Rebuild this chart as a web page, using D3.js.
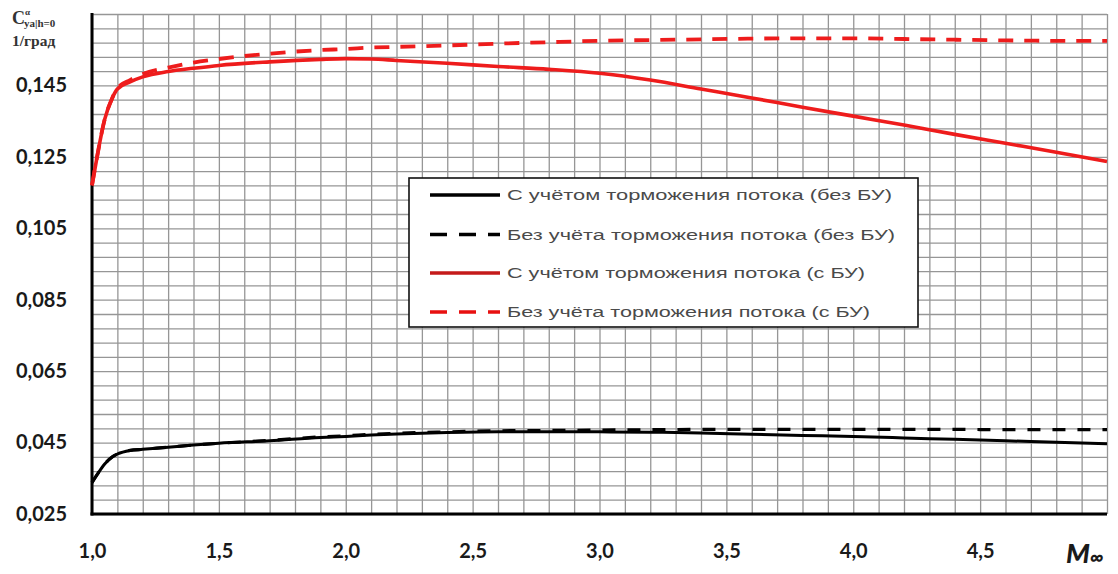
<!DOCTYPE html>
<html>
<head>
<meta charset="utf-8">
<script src="https://cdn.jsdelivr.net/npm/d3@7"></script>
<style>
  html, body { margin: 0; padding: 0; background: #fff; }
  svg { display: block; }
</style>
</head>
<body>
<svg id="chart" width="1118" height="574"></svg>
<script>
// Mach numbers at which the lift-curve slope was evaluated
const mach = [1.0, 1.02, 1.05, 1.08, 1.1, 1.15, 1.2, 1.3, 1.4, 1.5, 1.7, 1.9, 2.0, 2.1, 2.2,
              2.4, 2.6, 2.8, 3.0, 3.2, 3.4, 3.6, 3.8, 4.0, 4.2, 4.4, 4.6, 4.8, 5.0];

// C_ya^alpha, 1/deg — with flow deceleration, without boundary layer
const withDecelNoBL = [0.0338, 0.0360, 0.0390, 0.0410, 0.0418, 0.0428, 0.0431, 0.0437, 0.0443, 0.0448,
                       0.0455, 0.0464, 0.0467, 0.0471, 0.0474, 0.0478, 0.0480, 0.0480, 0.0480, 0.0479,
                       0.0477, 0.0473, 0.0470, 0.0467, 0.0463, 0.0459, 0.0455, 0.0451, 0.0447];
// without flow deceleration, without boundary layer
const noDecelNoBL = [0.0338, 0.0360, 0.0390, 0.0410, 0.0418, 0.0428, 0.0431, 0.0437, 0.0443, 0.0448,
                     0.0456, 0.0466, 0.0469, 0.0473, 0.0476, 0.0480, 0.0483, 0.0484, 0.0485, 0.0486,
                     0.0487, 0.0487, 0.0487, 0.0487, 0.0487, 0.0487, 0.0486, 0.0486, 0.0486];
// with flow deceleration, with boundary layer
const withDecelBL = [0.1170, 0.1250, 0.1355, 0.1415, 0.1440, 0.1460, 0.1474, 0.1489, 0.1498, 0.1506,
                     0.1516, 0.1523, 0.1525, 0.1524, 0.1520, 0.1512, 0.1503, 0.1495, 0.1484, 0.1465,
                     0.1440, 0.1415, 0.1389, 0.1364, 0.1339, 0.1313, 0.1288, 0.1263, 0.1237];
// without flow deceleration, with boundary layer
const noDecelBL = [0.1170, 0.1250, 0.1355, 0.1415, 0.1442, 0.1465, 0.1482, 0.1500, 0.1514, 0.1524,
                   0.1539, 0.1549, 0.1552, 0.1556, 0.1558, 0.1562, 0.1567, 0.1571, 0.1575, 0.1577,
                   0.1579, 0.1581, 0.1582, 0.1582, 0.1580, 0.1578, 0.1576, 0.1575, 0.1575];

const xTicks = [1.0, 1.5, 2.0, 2.5, 3.0, 3.5, 4.0, 4.5];
const xTickLabels = ["1,0", "1,5", "2,0", "2,5", "3,0", "3,5", "4,0", "4,5"];
const yTicks = [0.025, 0.045, 0.065, 0.085, 0.105, 0.125, 0.145];
const yTickLabels = ["0,025", "0,045", "0,065", "0,085", "0,105", "0,125", "0,145"];

const legendLabels = [
  "С учётом торможения потока (без БУ)",
  "Без учёта торможения потока (без БУ)",
  "С учётом торможения потока (с БУ)",
  "Без учёта торможения потока (с БУ)"
];

const svg = d3.select("#chart");
const plotL = 92, plotR = 1107, plotT = 14, plotB = 514;

const x = d3.scaleLinear().domain([1, 5]).range([plotL, plotR]);
const y = d3.scaleLinear().domain([0.025, 0.165]).range([plotB, plotT]);

// fine grid: every 0.1 in M, every 0.004 in C
const gridX = d3.range(0, 41).map(i => 1 + i * 0.1);
const gridY = d3.range(0, 36).map(i => 0.025 + i * 0.004);

const gx = svg.append("g").attr("transform", `translate(0,${plotB})`)
  .call(d3.axisBottom(x).tickValues(gridX).tickSize(-(plotB - plotT)).tickFormat(""));
const gy = svg.append("g").attr("transform", `translate(${plotL},0)`)
  .call(d3.axisLeft(y).tickValues(gridY).tickSize(-(plotR - plotL)).tickFormat(""));
[gx, gy].forEach(g => {
  g.select(".domain").remove();
  g.selectAll(".tick line").attr("stroke", "#969696").attr("stroke-width", 1.3);
});

// tick labels
const font = "Lato, 'Open Sans', sans-serif";
const ax = svg.append("g").attr("transform", `translate(0,${plotB})`)
  .call(d3.axisBottom(x).tickValues(xTicks).tickSize(0).tickPadding(30)
        .tickFormat((d, i) => xTickLabels[i]));
const ay = svg.append("g").attr("transform", `translate(${plotL},0)`)
  .call(d3.axisLeft(y).tickValues(yTicks).tickSize(0).tickPadding(25)
        .tickFormat((d, i) => yTickLabels[i]));
[ax, ay].forEach(g => {
  g.select(".domain").remove();
  g.selectAll("text").attr("font-family", font).attr("font-weight", 700)
    .attr("font-size", 20).attr("fill", "#1a1a1a");
});

// heavy axis lines
svg.append("line").attr("x1", plotL).attr("x2", plotL).attr("y1", plotT - 1).attr("y2", plotB + 1.5)
  .attr("stroke", "#000").attr("stroke-width", 3);
svg.append("line").attr("x1", plotL - 1.5).attr("x2", plotR).attr("y1", plotB).attr("y2", plotB)
  .attr("stroke", "#000").attr("stroke-width", 3);

// curves
const series = [
  { vals: noDecelBL, color: "#ee1c1c", dash: "15,11", width: 3.8 },
  { vals: withDecelBL, color: "#ee1c1c", dash: null, width: 3.6 },
  { vals: noDecelNoBL, color: "#000", dash: "13,12", width: 3.2 },
  { vals: withDecelNoBL, color: "#000", dash: null, width: 3.0 }
];
const line = d3.line().x(d => x(d[0])).y(d => y(d[1])).curve(d3.curveMonotoneX);
series.forEach(s => {
  svg.append("path")
    .datum(mach.map((m, i) => [m, s.vals[i]]))
    .attr("d", line)
    .attr("fill", "none")
    .attr("stroke", s.color)
    .attr("stroke-width", s.width)
    .attr("stroke-linejoin", "round")
    .attr("stroke-dasharray", s.dash);
});

// legend
const lg = svg.append("g");
lg.append("rect").attr("x", 409).attr("y", 178).attr("width", 509).attr("height", 149)
  .attr("fill", "#fff").attr("stroke", "#111").attr("stroke-width", 1.6);
const legendStyles = [
  { color: "#000", dash: null },
  { color: "#000", dash: "17,12" },
  { color: "#c41a1a", dash: null },
  { color: "#e81010", dash: "17,12" }
];
const rowY = [195, 234.5, 273, 312];
const textEnd = [892, 895, 865, 870];
legendLabels.forEach((t, i) => {
  lg.append("line").attr("x1", 430).attr("x2", 500).attr("y1", rowY[i]).attr("y2", rowY[i])
    .attr("stroke", legendStyles[i].color).attr("stroke-width", 3.4)
    .attr("stroke-dasharray", legendStyles[i].dash);
  lg.append("text").attr("x", 507).attr("y", rowY[i]).attr("dy", "0.35em")
    .attr("font-family", "'Liberation Sans', Arial, sans-serif").attr("font-size", 15.5)
    .attr("fill", "#4a4a4a")
    .attr("textLength", textEnd[i] - 507).attr("lengthAdjust", "spacingAndGlyphs")
    .text(t);
});

// y-axis title
const yt = svg.append("text").attr("x", 12).attr("y", 24)
  .attr("font-family", "'Liberation Serif', 'DejaVu Serif', serif").attr("font-weight", 700)
  .attr("fill", "#333");
yt.append("tspan").attr("font-size", 18).text("C");
yt.append("tspan").attr("font-size", 9).attr("dy", -9).attr("dx", 0).text("α");
yt.append("tspan").attr("font-size", 11).attr("dy", 12).attr("dx", -6).text("ya|h=0");
svg.append("text").attr("x", 12).attr("y", 46)
  .attr("font-family", "'Liberation Serif', 'DejaVu Serif', serif").attr("font-weight", 700)
  .attr("font-size", 15.5).attr("fill", "#333").text("1/град");

// x-axis title
const xt = svg.append("text").attr("x", 1066).attr("y", 563)
  .attr("font-family", font).attr("font-weight", 900).attr("font-style", "italic")
  .attr("fill", "#1a1a1a");
xt.append("tspan").attr("font-size", 27).text("M");
xt.append("tspan").attr("font-size", 20).attr("dy", 1).text("∞");
</script>
</body>
</html>
